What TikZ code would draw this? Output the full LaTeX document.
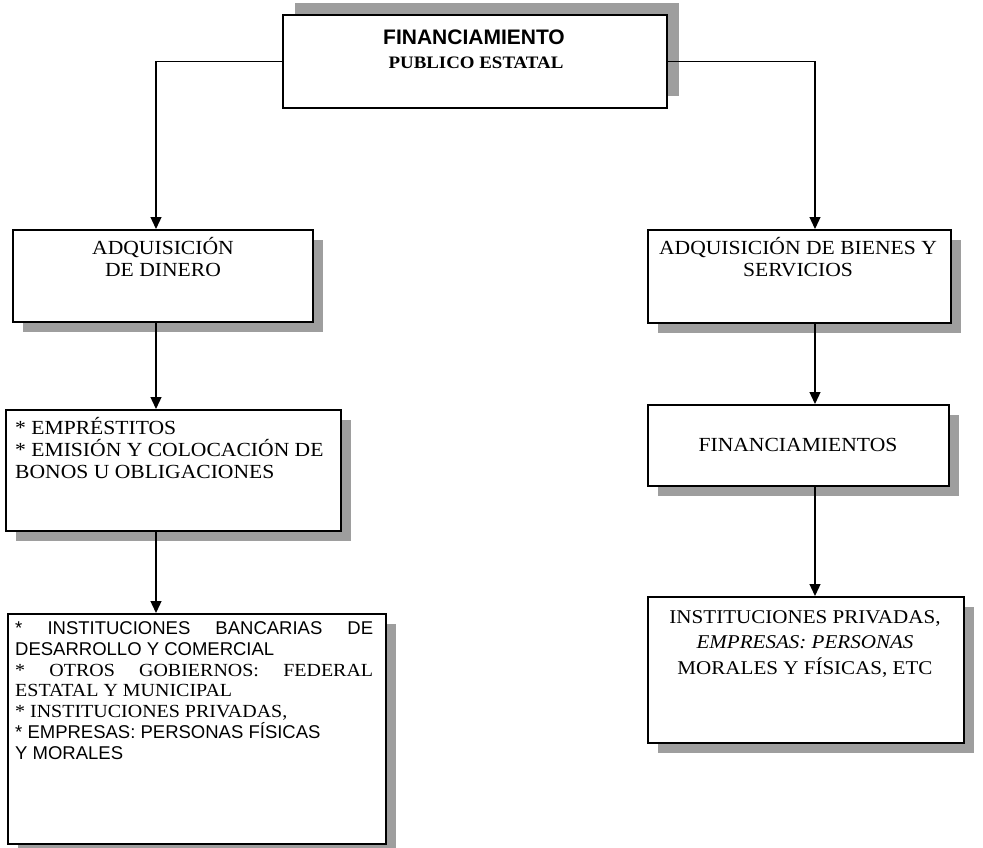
\documentclass[tikz,border=0pt]{standalone}
\usepackage{fontspec}
\setmainfont{Liberation Serif}[FakeStretch=1.08]
\setsansfont{Liberation Sans}
\usetikzlibrary{positioning,shadows,arrows.meta}

\tikzset{
  marco/.style={draw, line width=1.6pt, fill=white, anchor=north west, inner sep=0pt},
  sombra/.style 2 args={general shadow={fill=black!38, shadow xshift=#1, shadow yshift=#2}},
  caja/.style={marco, sombra={10pt}{-10pt}},
  texto/.style={anchor=base, inner sep=0pt, align=center, font=\fontsize{20}{22}\selectfont},
  lista/.style={anchor=base west, inner sep=0pt, align=left},
  flecha/.style={line width=1.3pt, -{Triangle[length=12pt,width=11pt]}},
}

\begin{document}
\begin{tikzpicture}[x=1pt,y=-1pt]
  \useasboundingbox (0,0) rectangle (983,848);
  \coordinate (ejeizq) at (156,0);
  \coordinate (ejeder) at (815,0);

  % cajas
  \node[marco, sombra={12pt}{12pt}, minimum width=384pt, minimum height=93pt] (fin) at (282,14) {};
  \node[caja, minimum width=300pt, minimum height=92pt] (adqdin) at (12,229) {};
  \node[caja, minimum width=303pt, minimum height=93pt] (adqbie) at (647,229) {};
  \node[caja, minimum width=335pt, minimum height=121pt] (emp) at (5,409) {};
  \node[caja, minimum width=301pt, minimum height=81pt] (finan) at (647,404) {};
  \node[caja, minimum width=378pt, minimum height=230pt] (inst) at (7,613) {};
  \node[caja, minimum width=316pt, minimum height=146pt] (priv) at (647,596) {};

  % textos (base = ultima linea)
  \node[anchor=base, font=\sffamily\bfseries\fontsize{21}{24}\selectfont] (fintit) at (474,44.5) {FINANCIAMIENTO};
  \node[anchor=base, font=\bfseries\fontsize{17.5}{20}\selectfont] (finsub) at (476,69) {PUBLICO ESTATAL};
  \node[texto] (adqdint) at (163,276.6) {ADQUISICIÓN\\DE DINERO};
  \node[texto] (adqbiet) at (798,276.6) {ADQUISICIÓN DE BIENES Y\\SERVICIOS};
  \node[lista, font=\fontsize{20}{22}\selectfont] (empt) at (15,478.6) {* EMPRÉSTITOS\\* EMISIÓN Y COLOCACIÓN DE\\BONOS U OBLIGACIONES};
  \node[texto] (finant) at (798,451) {FINANCIAMIENTOS};
  \node[lista, font=\fontsize{18.5}{20.8}\selectfont] (instt) at (15,759.2) {%
    {\sffamily\makebox[358pt][s]{* INSTITUCIONES BANCARIAS DE}}\\
    {\sffamily DESARROLLO Y COMERCIAL}\\
    \makebox[358pt][s]{* OTROS GOBIERNOS: FEDERAL}\\
    ESTATAL Y MUNICIPAL\\
    * INSTITUCIONES PRIVADAS,\\
    {\sffamily * EMPRESAS: PERSONAS FÍSICAS}\\
    {\sffamily Y MORALES}};
  \node[texto, font=\fontsize{19.5}{25.5}\selectfont] (privt) at (805,674.4) {INSTITUCIONES PRIVADAS,\\\textit{EMPRESAS: PERSONAS}\\MORALES Y FÍSICAS, ETC};

  % flechas
  \draw[flecha] (fin.west) -| (adqdin.north -| ejeizq);
  \draw[flecha] (fin.east) -| (adqbie.north -| ejeder);
  \draw[flecha] (adqdin.south -| ejeizq) -- (emp.north -| ejeizq);
  \draw[flecha] (emp.south -| ejeizq) -- (inst.north -| ejeizq);
  \draw[flecha] (adqbie.south -| ejeder) -- (finan.north -| ejeder);
  \draw[flecha] (finan.south -| ejeder) -- (priv.north -| ejeder);
\end{tikzpicture}
\end{document}
